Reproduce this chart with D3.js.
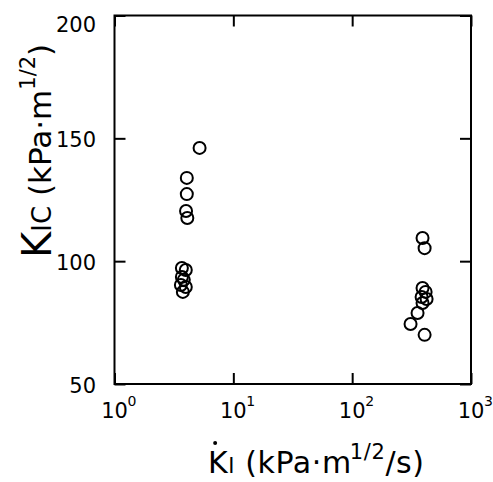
<!DOCTYPE html>
<html><head><meta charset="utf-8">
<script src="https://cdn.jsdelivr.net/npm/d3@7"></script>
<style>html,body{margin:0;padding:0;background:#fff;}</style>
</head><body>
<svg id="c" width="493" height="482"></svg>
<script>
// Loading rate K̇I (kPa·m^1/2/s)
const rates = [5.2, 4.06, 4.06, 4.0, 4.1, 3.69, 3.98, 3.69, 3.83, 3.62, 3.98, 3.76,
               391, 407, 391, 415, 384, 423, 391, 355, 310, 407];
// Fracture toughness KIC (kPa·m^1/2)
const toughness = [146.1, 133.9, 127.3, 120.4, 117.6, 97.2, 96.4, 93.6, 92.4, 90.3, 89.5, 87.5,
                   109.4, 105.3, 89.1, 87.5, 85.4, 84.6, 83.0, 78.9, 74.4, 70.0];
const xTickExps = [0, 1, 2, 3];
const yTicks = [50, 100, 150, 200];

const svg = d3.select("#c");
const L = 114.5, R = 471, T = 15.5, B = 384;
const x = d3.scaleLog().domain([1, 1000]).range([L, R]);
const y = d3.scaleLinear().domain([50, 200]).range([B, T]);
const font = "'DejaVu Sans', sans-serif";
const tickLen = 11;

// frame
svg.append("rect").attr("x", L).attr("y", T).attr("width", R - L).attr("height", B - T)
  .attr("fill", "none").attr("stroke", "#000").attr("stroke-width", 2);

// axes with inner ticks on all four sides
const xv = xTickExps.map(e => Math.pow(10, e));
function styleAxis(g) {
  g.select(".domain").remove();
  g.selectAll("line").attr("stroke-width", 2);
}
svg.append("g").attr("transform", `translate(0,${B})`)
  .call(d3.axisTop(x).tickValues(xv).tickSize(tickLen).tickFormat("")).call(styleAxis);
svg.append("g").attr("transform", `translate(0,${T})`)
  .call(d3.axisBottom(x).tickValues(xv).tickSize(tickLen).tickFormat("")).call(styleAxis);
svg.append("g").attr("transform", `translate(${L},0)`)
  .call(d3.axisRight(y).tickValues(yTicks).tickSize(tickLen).tickFormat("")).call(styleAxis);
svg.append("g").attr("transform", `translate(${R},0)`)
  .call(d3.axisLeft(y).tickValues(yTicks).tickSize(tickLen).tickFormat("")).call(styleAxis);

// y tick labels
svg.append("g").selectAll("text").data(yTicks).join("text")
  .attr("x", 96).attr("y", d => y(d) + (d === 200 ? 10 : 3))
  .attr("dominant-baseline", "middle").attr("text-anchor", "end")
  .attr("font-family", font).attr("font-size", 21).text(d => d);

// x tick labels 10^n
xTickExps.forEach(e => {
  const cx = x(Math.pow(10, e));
  svg.append("text").attr("x", cx).attr("y", 418).attr("font-family", font)
    .attr("font-size", 21).attr("text-anchor", "middle").text("10");
  svg.append("text").attr("x", cx + 13).attr("y", 406)
    .attr("font-family", font).attr("font-size", 14).text(e);
});

// points
svg.append("g").selectAll("circle").data(rates.map((r, i) => [r, toughness[i]])).join("circle")
  .attr("cx", d => x(d[0])).attr("cy", d => y(d[1])).attr("r", 6)
  .attr("fill", "none").attr("stroke", "#000").attr("stroke-width", 2);

// x axis title
const xt = svg.append("text").attr("x", 208).attr("y", 473)
  .attr("font-family", font).attr("font-size", 30).attr("letter-spacing", 0.6);
xt.append("tspan").text("K");
xt.append("tspan").attr("font-size", 21).text("I");
xt.append("tspan").text(" (kPa·m");
xt.append("tspan").attr("font-size", 21).attr("dy", -14).attr("dx", -2).text("1/2");
xt.append("tspan").attr("dy", 14).text("/s)");
const kw = xt.node().getSubStringLength(0, 1);
svg.append("circle").attr("cx", 208 + kw / 2 - 3).attr("cy", 443).attr("r", 2).attr("fill", "#000");

// y axis title
const yt = svg.append("text").attr("transform", "translate(51,258) rotate(-90)")
  .attr("font-family", font).attr("font-size", 31);
yt.append("tspan").attr("font-size", 40).text("K");
yt.append("tspan").attr("font-size", 26).text("IC");
yt.append("tspan").text(" (kPa·m");
yt.append("tspan").attr("font-size", 21).attr("dy", -16).text("1/2");
yt.append("tspan").attr("dy", 16).text(")");
</script>
</body></html>
